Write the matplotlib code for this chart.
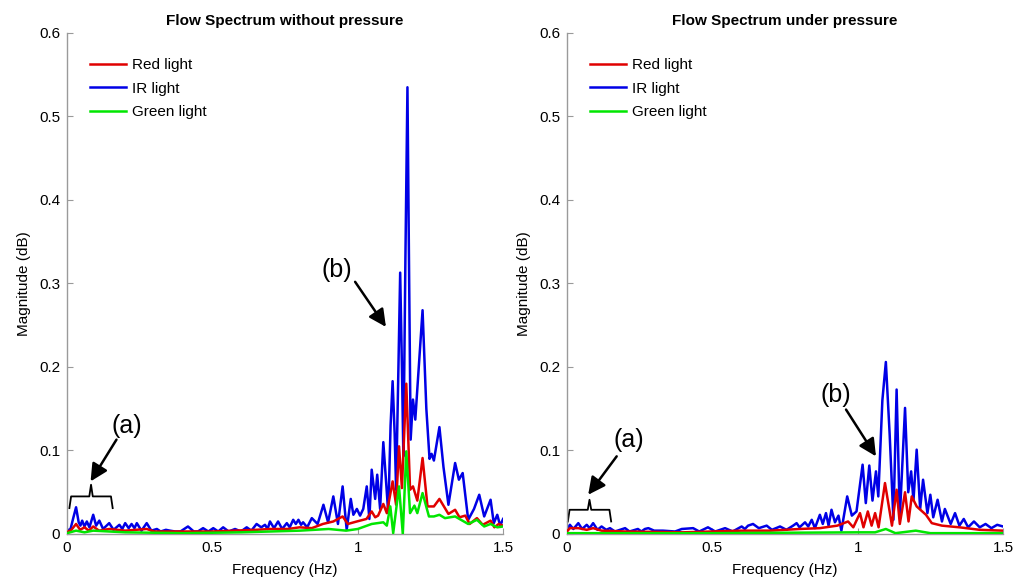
import matplotlib
matplotlib.use("Agg")
import matplotlib.pyplot as plt

plt.rcParams["font.family"] = ["Liberation Sans", "DejaVu Sans"]

# ---- spectrum without pressure (left) ----
freqIRLeft = [0.000, 0.012, 0.022, 0.031, 0.040, 0.046, 0.052, 0.060, 0.068, 0.077, 0.090, 0.100, 0.111, 0.124,
              0.145, 0.160, 0.180, 0.190, 0.200, 0.212, 0.222, 0.232, 0.240, 0.256, 0.274, 0.290, 0.309, 0.322,
              0.340, 0.354, 0.372, 0.390, 0.416, 0.436, 0.450, 0.468, 0.486, 0.503, 0.520, 0.537, 0.556, 0.578,
              0.598, 0.618, 0.634, 0.652, 0.668, 0.681, 0.690, 0.698, 0.712, 0.726, 0.740, 0.756, 0.766, 0.778,
              0.787, 0.796, 0.805, 0.812, 0.826, 0.842, 0.862, 0.882, 0.898, 0.916, 0.932, 0.948, 0.962, 0.976,
              0.985, 0.997, 1.008, 1.019, 1.031, 1.040, 1.048, 1.060, 1.067, 1.077, 1.088, 1.105, 1.113, 1.120,
              1.127, 1.132, 1.140, 1.146, 1.152, 1.157, 1.164, 1.171, 1.177, 1.182, 1.190, 1.198, 1.210, 1.223,
              1.236, 1.247, 1.254, 1.262, 1.281, 1.295, 1.312, 1.335, 1.348, 1.361, 1.380, 1.400, 1.418, 1.435,
              1.457, 1.468, 1.480, 1.490, 1.500]
magIRLeft = [0.004, 0.006, 0.020, 0.032, 0.014, 0.010, 0.016, 0.009, 0.015, 0.008, 0.023, 0.010, 0.016, 0.006,
             0.013, 0.005, 0.011, 0.006, 0.013, 0.007, 0.012, 0.007, 0.013, 0.004, 0.013, 0.004, 0.006, 0.003,
             0.005, 0.004, 0.003, 0.003, 0.009, 0.003, 0.003, 0.007, 0.003, 0.007, 0.003, 0.008, 0.003, 0.006,
             0.003, 0.008, 0.004, 0.012, 0.008, 0.011, 0.006, 0.015, 0.007, 0.015, 0.006, 0.013, 0.008, 0.017,
             0.012, 0.017, 0.011, 0.014, 0.008, 0.019, 0.012, 0.035, 0.014, 0.045, 0.012, 0.057, 0.005, 0.042,
             0.023, 0.030, 0.022, 0.030, 0.057, 0.018, 0.077, 0.042, 0.071, 0.030, 0.110, 0.025, 0.130, 0.183,
             0.120, 0.053, 0.200, 0.313, 0.200, 0.093, 0.330, 0.535, 0.300, 0.113, 0.161, 0.137, 0.200, 0.268,
             0.150, 0.090, 0.096, 0.088, 0.128, 0.080, 0.035, 0.085, 0.065, 0.073, 0.017, 0.030, 0.047, 0.021,
             0.041, 0.013, 0.023, 0.010, 0.018]

freqRedLeft = [0.000, 0.015, 0.031, 0.045, 0.060, 0.075, 0.090, 0.110, 0.145, 0.200, 0.274, 0.300, 0.500, 0.650,
               0.700, 0.760, 0.800, 0.842, 0.880, 0.916, 0.948, 0.966, 0.997, 1.030, 1.048, 1.060, 1.070, 1.088,
               1.100, 1.120, 1.132, 1.142, 1.152, 1.167, 1.180, 1.190, 1.205, 1.223, 1.240, 1.262, 1.281, 1.312,
               1.335, 1.350, 1.370, 1.385, 1.410, 1.430, 1.457, 1.470, 1.485, 1.500]
magRedLeft = [0.002, 0.005, 0.012, 0.005, 0.008, 0.004, 0.009, 0.004, 0.006, 0.004, 0.006, 0.003, 0.003, 0.005,
              0.006, 0.006, 0.008, 0.007, 0.012, 0.015, 0.021, 0.012, 0.015, 0.018, 0.027, 0.020, 0.022, 0.036,
              0.025, 0.063, 0.035, 0.105, 0.055, 0.180, 0.053, 0.057, 0.040, 0.091, 0.033, 0.033, 0.042, 0.024,
              0.029, 0.020, 0.022, 0.012, 0.019, 0.011, 0.016, 0.008, 0.012, 0.010]

freqGreenLeft = [0.000, 0.031, 0.060, 0.090, 0.200, 0.400, 0.600, 0.800, 0.900, 0.960, 1.000, 1.048, 1.088, 1.100,
                 1.112, 1.122, 1.142, 1.155, 1.167, 1.180, 1.195, 1.205, 1.223, 1.245, 1.262, 1.281, 1.300, 1.335,
                 1.380, 1.410, 1.435, 1.457, 1.480, 1.500]
magGreenLeft = [0.001, 0.004, 0.002, 0.004, 0.002, 0.001, 0.002, 0.004, 0.006, 0.004, 0.006, 0.012, 0.014, 0.010,
                0.033, 0.001, 0.057, 0.000, 0.099, 0.025, 0.034, 0.025, 0.049, 0.021, 0.021, 0.023, 0.019, 0.021,
                0.012, 0.017, 0.009, 0.012, 0.008, 0.009]

# ---- spectrum under pressure (right) ----
freqIRRight = [0.000, 0.010, 0.022, 0.039, 0.052, 0.068, 0.078, 0.090, 0.105, 0.119, 0.135, 0.148, 0.165, 0.200,
               0.215, 0.244, 0.256, 0.268, 0.280, 0.300, 0.330, 0.372, 0.395, 0.434, 0.455, 0.485, 0.510, 0.544,
               0.570, 0.601, 0.612, 0.623, 0.640, 0.660, 0.687, 0.705, 0.733, 0.755, 0.778, 0.790, 0.800, 0.819,
               0.830, 0.842, 0.853, 0.870, 0.880, 0.891, 0.900, 0.910, 0.922, 0.934, 0.944, 0.964, 0.980, 0.996,
               1.017, 1.028, 1.040, 1.051, 1.063, 1.071, 1.085, 1.097, 1.110, 1.123, 1.134, 1.145, 1.163, 1.174,
               1.184, 1.192, 1.203, 1.215, 1.225, 1.240, 1.250, 1.260, 1.275, 1.290, 1.300, 1.320, 1.335, 1.350,
               1.365, 1.380, 1.400, 1.420, 1.440, 1.460, 1.480, 1.500]
magIRRight = [0.005, 0.011, 0.006, 0.013, 0.006, 0.011, 0.007, 0.013, 0.005, 0.009, 0.005, 0.007, 0.003, 0.007,
              0.003, 0.006, 0.003, 0.006, 0.007, 0.004, 0.004, 0.003, 0.006, 0.007, 0.003, 0.008, 0.003, 0.007,
              0.003, 0.009, 0.006, 0.010, 0.012, 0.007, 0.010, 0.005, 0.009, 0.005, 0.010, 0.013, 0.008, 0.014,
              0.009, 0.017, 0.007, 0.023, 0.012, 0.025, 0.010, 0.029, 0.014, 0.022, 0.004, 0.045, 0.022, 0.027,
              0.083, 0.037, 0.082, 0.040, 0.075, 0.045, 0.160, 0.206, 0.120, 0.017, 0.173, 0.020, 0.151, 0.050,
              0.075, 0.040, 0.101, 0.030, 0.065, 0.025, 0.047, 0.020, 0.041, 0.015, 0.030, 0.012, 0.025, 0.010,
              0.018, 0.008, 0.015, 0.008, 0.012, 0.007, 0.011, 0.009]

freqRedRight = [0.000, 0.010, 0.039, 0.068, 0.090, 0.119, 0.200, 0.400, 0.600, 0.700, 0.800, 0.870, 0.930, 0.967,
                0.985, 1.008, 1.020, 1.035, 1.048, 1.060, 1.072, 1.094, 1.118, 1.134, 1.145, 1.163, 1.175, 1.186,
                1.203, 1.235, 1.255, 1.290, 1.350, 1.420, 1.500]
magRedRight = [0.003, 0.007, 0.007, 0.005, 0.007, 0.004, 0.003, 0.002, 0.004, 0.004, 0.006, 0.007, 0.010, 0.015,
               0.008, 0.025, 0.008, 0.027, 0.010, 0.025, 0.008, 0.061, 0.010, 0.053, 0.012, 0.050, 0.015, 0.045,
               0.033, 0.023, 0.013, 0.010, 0.008, 0.005, 0.004]

freqGreenRight = [0.000, 0.500, 1.000, 1.060, 1.097, 1.130, 1.200, 1.250, 1.500]
magGreenRight = [0.001, 0.001, 0.002, 0.002, 0.006, 0.001, 0.004, 0.001, 0.001]

xTicks = [0, 0.5, 1, 1.5]
xTickLabels = ["0", "0.5", "1", "1.5"]
yTicks = [0, 0.1, 0.2, 0.3, 0.4, 0.5, 0.6]
yTickLabels = ["0", "0.1", "0.2", "0.3", "0.4", "0.5", "0.6"]

RED = "#e00000"
BLUE = "#0000e6"
GREEN = "#00e600"


def drawBracket(ax, x0, x1, yEnd, yTop, yTip):
    """curly-ish bracket spanning x0..x1"""
    xc = (x0 + x1) / 2
    d = (x1 - x0) * 0.04
    xs = [x0, x0 + d, xc - d, xc, xc + d, x1 - d, x1]
    ys = [yEnd, yTop, yTop, yTip, yTop, yTop, yEnd]
    ax.plot(xs, ys, color="black", lw=1.3, clip_on=False)


def setupAxes(ax, title):
    ax.set_xlim(0, 1.5)
    ax.set_ylim(0, 0.6)
    ax.set_xticks(xTicks)
    ax.set_xticklabels(xTickLabels)
    ax.set_yticks(yTicks)
    ax.set_yticklabels(yTickLabels)
    for s in ["top", "right"]:
        ax.spines[s].set_visible(False)
    for s in ["left", "bottom"]:
        ax.spines[s].set_color("#9a9a9a")
        ax.spines[s].set_linewidth(1.0)
    ax.tick_params(direction="in", length=4, color="#9a9a9a", labelsize=11, pad=5)
    ax.set_xlabel("Frequency (Hz)", fontsize=11, labelpad=6)
    ax.set_ylabel("Magnitude (dB)", fontsize=11, labelpad=6)
    ax.set_title(title, fontsize=11, fontweight="bold", pad=6)
    ax.legend(loc="upper left", frameon=False, fontsize=11, handlelength=2.4,
              handletextpad=0.35, labelspacing=0.62, borderaxespad=0.0,
              bbox_to_anchor=(0.038, 0.962))


fig = plt.figure(figsize=(10.19, 5.87), dpi=100)
axL = fig.add_axes([0.0658, 0.0903, 0.4279, 0.8535])
axR = fig.add_axes([0.5564, 0.0903, 0.4279, 0.8535])

axL.plot(freqRedLeft, magRedLeft, color=RED, lw=1.8, label="Red light", zorder=3)
axL.plot(freqIRLeft, magIRLeft, color=BLUE, lw=1.8, label="IR light", zorder=2)
axL.plot(freqGreenLeft, magGreenLeft, color=GREEN, lw=1.8, label="Green light", zorder=4)
setupAxes(axL, "Flow Spectrum without pressure")

axR.plot(freqRedRight, magRedRight, color=RED, lw=1.8, label="Red light", zorder=3)
axR.plot(freqIRRight, magIRRight, color=BLUE, lw=1.8, label="IR light", zorder=2)
axR.plot(freqGreenRight, magGreenRight, color=GREEN, lw=1.8, label="Green light", zorder=4)
setupAxes(axR, "Flow Spectrum under pressure")

arrowProps = dict(arrowstyle="-|>", color="black", lw=1.8, mutation_scale=26, shrinkA=0, shrinkB=0)

# left annotations
drawBracket(axL, 0.008, 0.157, 0.031, 0.045, 0.059)
axL.annotate("", xy=(0.081, 0.063), xytext=(0.17, 0.113), arrowprops=arrowProps)
axL.text(0.205, 0.129, "(a)", fontsize=18, ha="center", va="center")
axL.annotate("", xy=(1.097, 0.248), xytext=(0.991, 0.302), arrowprops=arrowProps)
axL.text(0.928, 0.316, "(b)", fontsize=18, ha="center", va="center")

# right annotations
drawBracket(axR, 0.003, 0.152, 0.015, 0.029, 0.041)
axR.annotate("", xy=(0.073, 0.047), xytext=(0.171, 0.093), arrowprops=arrowProps)
axR.text(0.214, 0.113, "(a)", fontsize=18, ha="center", va="center")
axR.annotate("", xy=(1.063, 0.093), xytext=(0.96, 0.149), arrowprops=arrowProps)
axR.text(0.925, 0.167, "(b)", fontsize=18, ha="center", va="center")

fig.savefig("out.png", dpi=100)
